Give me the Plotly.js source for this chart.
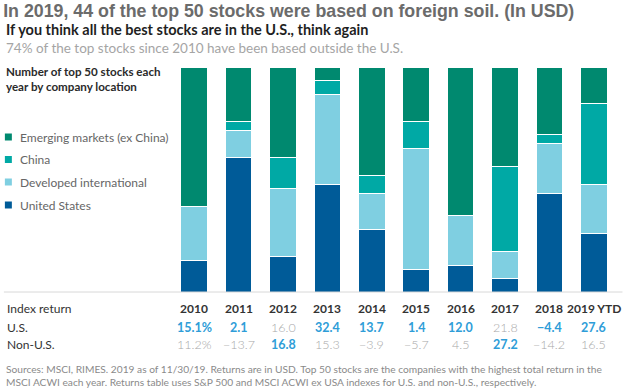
<!DOCTYPE html>
<html>
<head>
<meta charset="utf-8">
<script src="https://cdn.plot.ly/plotly-3.0.1.min.js"></script>
<style>html,body{margin:0;padding:0;background:#fff;}#chart{width:633px;height:392px;}</style>
</head>
<body>
<div id="chart"></div>
<script>
// ---- data ----
const years = ['2010','2011','2012','2013','2014','2015','2016','2017','2018','2019 YTD'];
const unitedStates = [7, 30, 8, 24, 14, 5, 6, 3, 22, 13];
const developedIntl = [12, 6, 15, 20, 8, 27, 11, 6, 11, 11];
const china = [0, 2, 7, 3, 4, 6, 0, 19, 2, 18];
const emergingMarkets = [31, 12, 20, 3, 24, 12, 33, 22, 15, 8];
const usReturns = [15.1, 2.1, 16.0, 32.4, 13.7, 1.4, 12.0, 21.8, -4.4, 27.6];
const nonUsReturns = [11.2, -13.7, 16.8, 15.3, -3.9, -5.7, 4.5, 27.2, -14.2, 16.5];
const seriesNames = ['Emerging markets (ex China)', 'China', 'Developed international', 'United States'];

// ---- styles ----
const colors = {em:'#00896F', china:'#00A9A5', dev:'#7FCFE1', us:'#005B98'};
const BLUE = '#2E9DD8', GREY = '#A8A8A8', DARK = '#333333';
const FONT = 'Lato, "Noto Sans", sans-serif';

// plot area in pixels
const L = 171.5, R = 616.5, T = 67, B = 292;
const W = R - L, H = B - T;
const px = x => (x - L) / W;
const py = y => (B - y) / H;

function mk(name, y, color){
  return {type:'bar', name:name, x:years, y:y, width:0.6,
    marker:{color:color, line:{color:'#ffffff', width:1}},
    hoverinfo:'x+y+name', showlegend:false};
}
const traces = [
  mk(seriesNames[3], unitedStates, colors.us),
  mk(seriesNames[2], developedIntl, colors.dev),
  mk(seriesNames[1], china, colors.china),
  mk(seriesNames[0], emergingMarkets, colors.em)
];

function fmt(v, i){
  let s = Math.abs(v).toFixed(1);
  if (v < 0) s = '−' + s;
  if (i === 0) s += '%';
  return s;
}

const ann = [];
const shapes = [];

// subtitle lines
ann.push({xref:'paper', yref:'paper', x:px(3), y:py(29.5), xanchor:'left', yanchor:'middle', showarrow:false,
  text:'If you think all the best stocks are in the U.S., think again', font:{family:FONT, size:14.5, color:'#1f1f1f', weight:700}});
ann.push({xref:'paper', yref:'paper', x:px(3), y:py(48), xanchor:'left', yanchor:'middle', showarrow:false,
  text:'74% of the top stocks since 2010 have been based outside the U.S.', font:{family:FONT, size:13.5, color:'#A5A5A5'}});
// chart label
ann.push({xref:'paper', yref:'paper', x:px(3), y:py(79), xanchor:'left', yanchor:'middle', showarrow:false, align:'left',
  text:'<b>Number of top 50 stocks each<br>year by company location</b>', font:{family:FONT, size:11.6, color:'#2a2a2a'}});

// custom legend
const legColors = [colors.em, colors.china, colors.dev, colors.us];
const legY = [137, 159.5, 182, 205];
seriesNames.forEach((n, i) => {
  shapes.push({type:'rect', xref:'paper', yref:'paper', x0:px(4), x1:px(11), y0:py(legY[i]+3.5), y1:py(legY[i]-3.5),
    fillcolor:legColors[i], line:{width:0}});
  ann.push({xref:'paper', yref:'paper', x:px(17), y:py(legY[i]), xanchor:'left', yanchor:'middle', showarrow:false,
    text:n, font:{family:FONT, size:12, color:'#666666'}});
});

// baseline
shapes.push({type:'line', xref:'paper', yref:'paper', x0:px(3), x1:px(623), y0:0, y1:0, line:{color:'#D8D8D8', width:1}});

// table
ann.push({xref:'paper', yref:'paper', x:px(4), y:py(308), xanchor:'left', yanchor:'middle', showarrow:false,
  text:'Index return', font:{family:FONT, size:12, color:DARK}});
ann.push({xref:'paper', yref:'paper', x:px(4), y:py(327), xanchor:'left', yanchor:'middle', showarrow:false,
  text:'U.S.', font:{family:FONT, size:12, color:DARK}});
ann.push({xref:'paper', yref:'paper', x:px(4), y:py(344), xanchor:'left', yanchor:'middle', showarrow:false,
  text:'Non-U.S.', font:{family:FONT, size:12, color:DARK}});
years.forEach((yr, i) => {
  ann.push({xref:'x', yref:'paper', x:i, y:py(308), xanchor:'center', yanchor:'middle', showarrow:false,
    text:yr, font:{family:FONT, size:12, color:DARK, weight:700}});
  const usWin = usReturns[i] >= nonUsReturns[i];
  ann.push({xref:'x', yref:'paper', x:i, y:py(327), xanchor:'center', yanchor:'middle', showarrow:false,
    text:fmt(usReturns[i], i), font:{family:FONT, size:12.5, color:usWin?BLUE:GREY, weight:usWin?700:300}});
  ann.push({xref:'x', yref:'paper', x:i, y:py(344), xanchor:'center', yanchor:'middle', showarrow:false,
    text:fmt(nonUsReturns[i], i), font:{family:FONT, size:12.5, color:usWin?GREY:BLUE, weight:usWin?300:700}});
});

// sources
ann.push({xref:'paper', yref:'paper', x:px(3), y:py(375), xanchor:'left', yanchor:'middle', showarrow:false, align:'left',
  text:'Sources: MSCI, RIMES. 2019 as of 11/30/19. Returns are in USD. Top 50 stocks are the companies with the highest total return in the<br>MSCI ACWI each year. Returns table uses S&P 500 and MSCI ACWI ex USA indexes for U.S. and non-U.S., respectively.',
  font:{family:FONT, size:10.2, color:'#8a8a8a'}});

const layout = {
  width:633, height:392,
  margin:{l:L, r:633-R, t:T, b:392-B, pad:0},
  paper_bgcolor:'#ffffff', plot_bgcolor:'#ffffff',
  barmode:'stack', bargap:0.4,
  title:{text:'<b>In 2019, 44 of the top 50 stocks were based on foreign soil. (In USD)</b>',
    x:0.005, xanchor:'left', y:1-10.5/392, yanchor:'middle', yref:'container',
    font:{family:'"Liberation Sans", Arial, sans-serif', size:17.8, color:'#6B6B6B'}},
  xaxis:{type:'category', range:[-0.5, 9.5], showticklabels:false, showgrid:false, zeroline:false, showline:false, ticks:''},
  yaxis:{range:[0,50], showticklabels:false, showgrid:false, zeroline:false, showline:false, ticks:''},
  annotations:ann, shapes:shapes, showlegend:false
};

Plotly.newPlot('chart', traces, layout, {displayModeBar:false, staticPlot:true});
</script>
</body>
</html>
